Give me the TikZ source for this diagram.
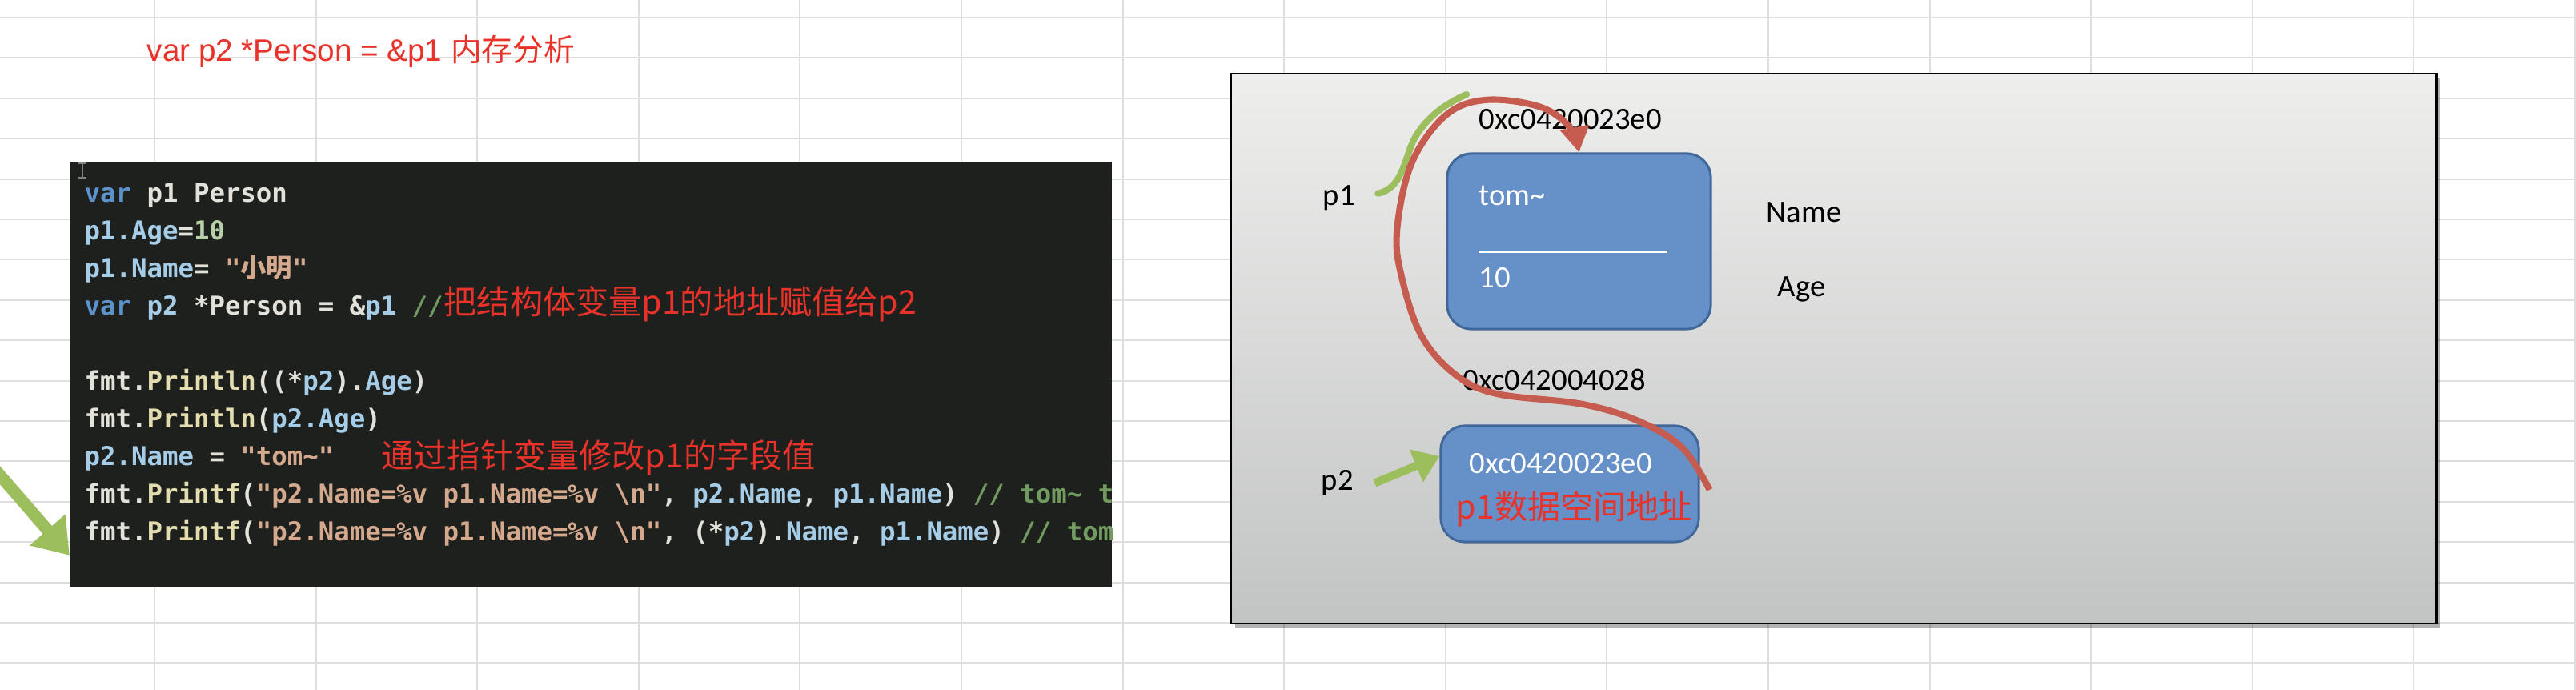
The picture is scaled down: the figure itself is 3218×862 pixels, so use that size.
\documentclass[tikz,border=0pt]{standalone}
\usepackage{fontspec}
\usepackage{xcolor}
\usepackage{tikz}
\usetikzlibrary{positioning, arrows.meta, shadows}
\setmainfont{Liberation Sans}
\newfontfamily\cjk{Noto Sans CJK SC}
\newfontfamily\codefont{DejaVu Sans Mono}
\newfontfamily\calfont{Carlito}

\definecolor{redtext}{HTML}{E8322A}
\definecolor{gridgray}{HTML}{DEDEDE}
\definecolor{codebg}{HTML}{1E201D}
\definecolor{pl}{HTML}{E2E2DA}
\definecolor{kw}{HTML}{5C93CC}
\definecolor{vr}{HTML}{A6CDE8}
\definecolor{st}{HTML}{D4A98E}
\definecolor{nm}{HTML}{B8CFA8}
\definecolor{cm}{HTML}{719B5F}
\definecolor{fn}{HTML}{E3DDB0}
\definecolor{boxfill}{HTML}{6690C8}
\definecolor{boxline}{HTML}{41679A}
\definecolor{panelhi}{HTML}{EEEFED}
\definecolor{panello}{HTML}{C2C4C3}
\definecolor{greenarrow}{HTML}{9DBE5C}
\definecolor{redarrow}{HTML}{C65B50}

\tikzset{
	gridline/.style={gridgray, line width=0.6pt},
	headline/.style={anchor=base west, inner sep=0, text=redtext, font=\fontsize{11}{13}\selectfont},
	note/.style={anchor=base west, inner sep=0, text=redtext, font=\fontsize{11.7}{14}\selectfont\cjk},
	codebox/.style={fill=codebg, inner sep=0},
	codeline/.style={anchor=mid west, inner sep=0, text=pl, font=\fontsize{9.2}{11}\selectfont\codefont\bfseries},
	cursor/.style={gray, line width=0.6pt},
	panel/.style={draw=black, line width=0.7pt, top color=panelhi, bottom color=panello,
		drop shadow={shadow xshift=0.05cm, shadow yshift=-0.05cm, fill=black, opacity=0.3}},
	membox/.style={draw=boxline, fill=boxfill, line width=0.85pt, rounded corners=0.3cm},
	lbl/.style={anchor=base west, inner sep=0, font=\fontsize{11}{13}\selectfont\calfont},
	fatarrow/.style={greenarrow, line width=4.3pt, -{Triangle[length=12pt,width=16pt]}},
	thinarrow/.style={greenarrow, line width=2.3pt, line cap=round},
	ptrarrow/.style={greenarrow, line width=2.9pt, -{Triangle[length=9pt,width=12pt]}},
	redcurve/.style={redarrow, line width=2.3pt, -{Triangle[length=9pt,width=10pt]}}
}

\begin{document}
\begin{tikzpicture}[x=0.01cm, y=-0.01cm]
	\useasboundingbox (0,0) rectangle (3218,862);
	\fill[white] (0,0) rectangle (3218,862);
	\foreach \k in {0,...,16} \draw[gridline] (0,{22+50.4*\k}) -- (3218,{22+50.4*\k});
	\foreach \k in {0,...,15} \draw[gridline] ({193+201.6*\k},0) -- ({193+201.6*\k},862);

	\node[headline] (title) at (183,77) {var p2 *Person = \&p1 {\cjk 内存分析}};

	\node[codebox, minimum width=13.01cm, minimum height=5.31cm] (code) at (738.5,467.5) {};
	\begin{scope}
		\clip (code.south west) rectangle (code.north east);
		\draw[cursor] (98,204) -- (108,204) (103,204) -- (103,222) (98,222) -- (108,222);
		\node[codeline] (ln1) at (105,243) {\textcolor{kw}{var} p1 Person};
		\node[codeline] (ln2) at (105,290) {\textcolor{vr}{p1.Age}=\textcolor{nm}{10}};
		\node[codeline] (ln3) at (105,337) {\textcolor{vr}{p1.Name}= \textcolor{st}{"{\cjk 小明}"}};
		\node[codeline] (ln4) at (105,384) {\textcolor{kw}{var} \textcolor{vr}{p2} *Person = \&\textcolor{vr}{p1} \textcolor{cm}{//}};
		\node[codeline] (ln6) at (105,478) {fmt.\textcolor{fn}{Println}((*\textcolor{vr}{p2}).\textcolor{vr}{Age})};
		\node[codeline] (ln7) at (105,525) {fmt.\textcolor{fn}{Println}(\textcolor{vr}{p2.Age})};
		\node[codeline] (ln8) at (105,572) {\textcolor{vr}{p2.Name} = \textcolor{st}{"tom\textasciitilde"}};
		\node[codeline] (ln9) at (105,619) {fmt.\textcolor{fn}{Printf}(\textcolor{st}{"p2.Name=\%v p1.Name=\%v \textbackslash n"}, \textcolor{vr}{p2.Name}, \textcolor{vr}{p1.Name}) \textcolor{cm}{// tom\textasciitilde{} tom\textasciitilde}};
		\node[codeline] (ln10) at (105,666) {fmt.\textcolor{fn}{Printf}(\textcolor{st}{"p2.Name=\%v p1.Name=\%v \textbackslash n"}, (*\textcolor{vr}{p2}).\textcolor{vr}{Name}, \textcolor{vr}{p1.Name}) \textcolor{cm}{// tom\textasciitilde{} tom\textasciitilde}};
	\end{scope}
	\node[note] (note1) at (554,393) {把结构体变量p1的地址赋值给p2};
	\node[note] (note2) at (476,585) {通过指针变量修改p1的字段值};

	\coordinate (gtail) at (-12,580);
	\draw[fatarrow] (gtail) -- ([yshift=0.4cm]code.south west);

	\node[panel, minimum width=15.05cm, minimum height=6.87cm] (panel) at (2290.5,435.5) {};

	\node[membox, minimum width=3.29cm, minimum height=2.19cm] (box1) at (1972.5,301.5) {};
	\node[membox, minimum width=3.22cm, minimum height=1.45cm] (box2) at (1961,604.5) {};

	\node[lbl] (addr1) at (1847,162) {0xc0420023e0};
	\node[lbl, text=white] (nameval) at (1847,257) {tom\textasciitilde};
	\draw[white, line width=0.85pt] (1847,315) -- (2083,315);
	\node[lbl, text=white] (ageval) at (1847,360) {10};
	\node[lbl] (namelbl) at (2206,278) {Name};
	\node[lbl] (agelbl) at (2220,371) {Age};
	\node[lbl] (p1) at (1652,257) {p1};
	\node[lbl] (addr2) at (1827,488) {0xc042004028};
	\node[lbl, text=white] (ptrval) at (1835,592) {0xc0420023e0};
	\node[note] (ptrnote) at (1818,649) {p1数据空间地址};
	\node[lbl] (p2) at (1650,613) {p2};

	\coordinate (p1tip) at (1832,118);
	\draw[thinarrow] ([xshift=0.28cm,yshift=0.06cm]p1.east) .. controls (1755,235) and (1755,190) .. (1770,168) .. controls (1785,145) and (1805,130) .. (p1tip);
	\draw[ptrarrow] ([xshift=0.26cm]p2.east) -- (box2.168);
	\draw[redcurve] plot[smooth, tension=0.6] coordinates {([xshift=0.12cm,yshift=-0.075cm]box2.east) (2102,560) (2049,527) (1977,505) (1870,492) (1818,468) (1776,420) (1752,350) (1745,290) (1763,205) (1805,145) (1855,125) (1922,133) (1960,158) (box1.north)};
\end{tikzpicture}
\end{document}
